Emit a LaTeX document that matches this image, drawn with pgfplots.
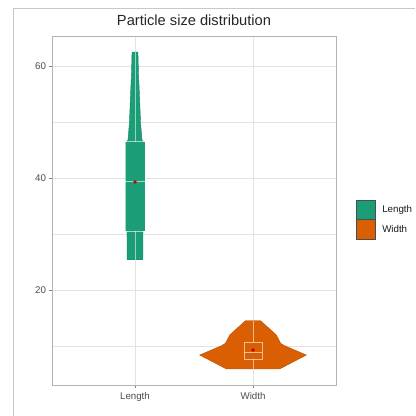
\documentclass[border=0pt]{standalone}
\usepackage{pgfplots}
\pgfplotsset{compat=1.18}
\usepackage{fontspec}
\setmainfont{Liberation Sans}
\definecolor{lenc}{HTML}{1B9E77}
\definecolor{widc}{HTML}{D95F02}
\definecolor{gridc}{HTML}{E3E3E3}
\definecolor{bordc}{HTML}{B3B3B3}
\definecolor{tickc}{HTML}{4D4D4D}
\definecolor{framec}{HTML}{C8C8C8}
\begin{document}
\begin{tikzpicture}
\begin{scope}[x=0.75pt,y=0.75pt]
\useasboundingbox (0,0) rectangle (415,416);
\fill[white] (0,0) rectangle (415,416);
\draw[framec, line width=0.75pt] (13,0) -- (13,407) -- (415,407);
\node[font=\fontsize{11}{13}\selectfont, anchor=base, text=black!85] at (194,390) {Particle size distribution};
% legend
\draw[fill=lenc, draw=tickc, line width=0.5pt] (356,196.5) rectangle (375,216);
\draw[fill=widc, draw=tickc, line width=0.5pt] (356,177) rectangle (375,196.5);
\node[font=\fontsize{7.3}{8}\selectfont, anchor=west, inner sep=0pt, text=black!90] at (382,206.2) {Length};
\node[font=\fontsize{7.3}{8}\selectfont, anchor=west, inner sep=0pt, text=black!90] at (382,186.7) {Width};
\end{scope}
\begin{axis}[
  at={(39pt,23.25pt)}, anchor=south west,
  scale only axis, width=213pt, height=261.75pt,
  xmin=0.297, xmax=2.703, ymin=3.04, ymax=65.36,
  xtick={1,2}, xticklabels={Length,Width},
  ytick={20,40,60}, minor ytick={10,30,50},
  grid=both,
  major grid style={gridc, line width=0.5pt},
  minor grid style={gridc, line width=0.25pt},
  axis line style={bordc, line width=0.6pt},
  tick align=outside, tick pos=left,
  major tick length=2pt,
  tick style={tickc!70, line width=0.5pt},
  minor tick length=0pt,
  ticklabel style={font=\fontsize{7.3}{8}\selectfont, text=tickc},
  yticklabel style={xshift=1pt},
  /pgf/number format/assume math mode=true,
]
% Length violin
\addplot[fill=lenc, draw=lenc!85!black, line width=0.3pt] coordinates {
(1.066,25.4) (1.068,30.4) (1.07,46.5) (1.059,46.8) (1.047,50) (1.038,54.8) (1.030,58.5) (1.025,62.5)
(0.975,62.5) (0.970,58.5) (0.962,54.8) (0.953,50) (0.941,46.8) (0.930,46.5) (0.932,30.4) (0.934,25.4)
} -- cycle;
% Width violin
\addplot[fill=widc, draw=widc!85!black, line width=0.3pt] coordinates {
(2.225,5.9) (2.452,8.39) (2.268,10.05) (2.234,10.48) (2.198,11.96) (2.120,13.45) (2.064,14.52)
(1.936,14.52) (1.880,13.45) (1.802,11.96) (1.766,10.48) (1.732,10.05) (1.548,8.39) (1.775,5.9)
} -- cycle;
% whiskers
\addplot[white, opacity=0.55, line width=0.5pt] coordinates {(1,25.4) (1,30.5)};
\addplot[white, opacity=0.55, line width=0.5pt] coordinates {(1,46.5) (1,62.5)};
\addplot[white, opacity=0.55, line width=0.5pt] coordinates {(2,5.9) (2,7.65)};
\addplot[white, opacity=0.55, line width=0.5pt] coordinates {(2,10.7) (2,14.5)};
% boxes
\addplot[fill=lenc, draw=white, draw opacity=0.6, line width=0.5pt] coordinates {(0.915,30.5) (1.085,30.5) (1.085,46.5) (0.915,46.5)} -- cycle;
\addplot[fill=widc, draw=white, draw opacity=0.6, line width=0.5pt] coordinates {(1.923,7.65) (2.077,7.65) (2.077,10.7) (1.923,10.7)} -- cycle;
% medians
\addplot[white, opacity=0.6, line width=0.7pt] coordinates {(0.915,39.3) (1.085,39.3)};
\addplot[white, opacity=0.6, line width=0.7pt] coordinates {(1.923,8.8) (2.077,8.8)};
% means
\addplot[only marks, mark=*, mark size=1.1pt, color=red!80!black] coordinates {(1,39.3) (2,9.3)};
\end{axis}
\end{tikzpicture}
\end{document}
